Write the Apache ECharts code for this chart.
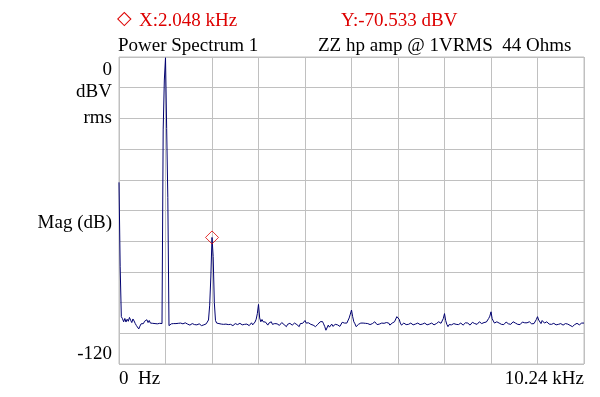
<!DOCTYPE html>
<html>
<head>
<meta charset="utf-8">
<script src="https://cdn.jsdelivr.net/npm/echarts@6/dist/echarts.min.js"></script>
<style>
    html, body { margin: 0; padding: 0; background: #fff; }
    #spectrum_chart { width: 600px; height: 397px; }
</style>
</head>
<body>
<div id="spectrum_chart"></div>
<script>
// FFT bin width (kHz), 400 lines over 0 .. 10.24 kHz
var binKHz = 0.0256;

// magnitude per bin, dBV rms
var magDb = [
    -49, -82, -101.5, -102.3, -103.5, -102.2, -103.6, -102.5, -103.3, -101.8,
    -102.9, -103.8, -102.4, -103.2, -104.2, -105.0, -105.6, -106.3, -105.2, -104.3,
    -103.6, -104.2, -103.3, -103.9, -102.7, -103.8, -103.0, -104.0, -103.4, -104.1,
    -103.5, -104.2, -103.8, -104.3, -103.7, -104.1, -104.0, -104.2, -28.5, -9.0,
    -0.3, -28, -55, -105.0, -104.7, -104.3, -104.0, -104.2, -104.4, -104.2,
    -103.9, -104.1, -103.8, -104.0, -104.3, -104.3, -104.0, -103.9, -104.1, -104.4,
    -104.6, -104.8, -104.4, -104.2, -104.3, -104.6, -105.0, -104.7, -104.4, -104.3,
    -104.6, -105.0, -105.2, -104.7, -104.4, -104.3, -103.9, -102.8, -97, -86,
    -70.533, -78, -96, -103, -104.0, -104.3, -104.2, -104.1, -104.4, -104.7,
    -104.5, -103.9, -104.4, -104.8, -104.6, -104.3, -104.5, -104.8, -105.0, -104.6,
    -104.2, -104.8, -104.6, -104.3, -104.1, -104.4, -104.7, -104.8, -104.5, -104.3,
    -104.4, -104.7, -105.0, -104.6, -103.9, -104.7, -104.2, -103.6, -102.5, -100.3,
    -96.7, -102.0, -103.5, -102.6, -103.5, -104.1, -103.6, -104.1, -104.8, -104.0,
    -103.8, -103.5, -104.5, -104.8, -104.2, -103.9, -104.3, -104.7, -104.9, -104.2,
    -103.8, -104.0, -104.6, -105.2, -105.4, -104.5, -103.9, -104.1, -104.7, -104.8,
    -104.3, -104.0, -104.2, -104.6, -105.0, -105.4, -104.2, -103.5, -104.1, -103.9,
    -103.0, -104.0, -104.4, -103.9, -104.1, -104.5, -104.9, -104.8, -105.2, -105.4,
    -104.8, -104.5, -104.1, -103.5, -102.8, -103.4, -104.3, -105.4, -106.8, -106.5,
    -104.8, -105.6, -105.2, -104.4, -105.3, -105.0, -104.5, -104.1, -104.7, -105.2,
    -105.3, -104.6, -103.7, -103.6, -104.0, -104.3, -104.0, -103.5, -102.0, -100.5,
    -98.9, -101.5, -103.5, -104.3, -105.4, -104.8, -104.5, -104.3, -104.0, -104.2,
    -104.0, -104.3, -104.1, -104.0, -104.2, -104.4, -104.6, -104.8, -104.2, -103.8,
    -103.5, -104.0, -104.6, -104.8, -104.4, -104.1, -104.0, -104.2, -104.1, -104.0,
    -103.8, -103.5, -104.0, -104.8, -104.2, -104.0, -103.8, -103.5, -102.8, -101.5,
    -100.8, -102.5, -104.0, -104.8, -104.3, -104.0, -104.2, -104.6, -104.8, -104.5,
    -104.1, -104.0, -104.4, -104.7, -104.8, -104.4, -104.1, -104.0, -104.3, -104.6,
    -104.8, -104.4, -104.1, -104.0, -104.4, -104.7, -104.8, -104.4, -104.1, -104.0,
    -104.4, -104.7, -104.8, -104.2, -103.6, -103.5, -103.9, -104.1, -103.4, -102.2,
    -100.3, -103.0, -104.5, -105.4, -104.6, -104.1, -104.7, -104.5, -104.2, -104.1,
    -104.5, -104.8, -104.6, -104.2, -104.0, -104.4, -104.8, -104.5, -103.9, -103.5,
    -104.0, -104.6, -104.8, -104.2, -103.7, -103.5, -104.2, -104.8, -104.5, -103.9,
    -103.5, -103.8, -104.2, -104.1, -103.8, -103.5, -103.6, -103.0, -102.2, -101.3,
    -99.6, -102.3, -103.2, -104.0, -103.8, -103.5, -103.8, -104.0, -104.2, -104.5,
    -104.8, -104.6, -104.0, -103.6, -103.8, -104.3, -104.8, -104.5, -103.8, -103.5,
    -103.8, -104.0, -104.1, -104.5, -104.8, -104.6, -104.0, -103.6, -103.6, -103.9,
    -104.1, -103.9, -103.6, -103.5, -103.8, -104.3, -104.8, -104.2, -103.5, -102.6,
    -101.5, -102.8, -103.5, -104.2, -103.0, -103.2, -104.0, -103.8, -103.5, -103.9,
    -104.4, -104.8, -104.5, -104.2, -104.1, -104.4, -104.7, -104.8, -104.5, -104.1,
    -104.2, -104.6, -104.8, -104.4, -104.2, -104.1, -104.4, -104.8, -104.9, -105.2,
    -105.4, -105.2, -104.6, -104.2, -104.1, -104.5, -104.7, -104.6, -104.0, -103.5,
    -104.0
];

// cursor readout
var markerKHz = [2.048];
var markerDb = [-70.533];

// axis text
var xTickLabels = ['0  Hz', '10.24 kHz'];
var yTickLabels = ['0', '-120'];
var yUnitLabels = ['dBV', 'rms', 'Mag (dB)'];

var titleTexts = ['Power Spectrum 1', 'ZZ hp amp @ 1VRMS  44 Ohms'];

var fontFamily = '"Liberation Serif", "Times New Roman", serif';
var gridColor = '#c0c0c0';

var spectrumData = [];
for (var i = 0; i < magDb.length; i++) {
    spectrumData.push([i * binKHz, magDb[i]]);
}

var chart = echarts.init(document.getElementById('spectrum_chart'), null, {renderer: 'canvas'});

var option = {
    animation: false,
    backgroundColor: '#fff',
    grid: {
        left: 119,
        right: 16,
        top: 57,
        bottom: 33,
        show: true,
        borderColor: gridColor,
        borderWidth: 1,
        containLabel: false
    },
    xAxis: {
        type: 'value',
        min: 0,
        max: 10.24,
        interval: 1.024,
        axisLine: {show: false},
        axisTick: {show: false},
        splitLine: {show: true, lineStyle: {color: gridColor, width: 1}},
        axisLabel: {
            show: true,
            margin: 6,
            color: '#000',
            fontFamily: fontFamily,
            fontSize: 19,
            showMinLabel: true,
            showMaxLabel: true,
            alignMinLabel: 'left',
            alignMaxLabel: 'right',
            formatter: function (value) {
                if (Math.abs(value) < 1e-6) return xTickLabels[0];
                if (Math.abs(value - 10.24) < 1e-6) return xTickLabels[1];
                return '';
            }
        }
    },
    yAxis: {
        type: 'value',
        min: -120,
        max: 0,
        interval: 12,
        axisLine: {show: false},
        axisTick: {show: false},
        splitLine: {show: true, lineStyle: {color: gridColor, width: 1}},
        axisLabel: {
            show: true,
            margin: 7,
            color: '#000',
            fontFamily: fontFamily,
            fontSize: 19,
            formatter: function (value) {
                if (value === 0) return '{t|' + yTickLabels[0] + '}';
                if (value === -120) return '{b|' + yTickLabels[1] + '}';
                return '';
            },
            rich: {
                t: {fontFamily: fontFamily, fontSize: 19, color: '#000', padding: [27, 0, 0, 0]},
                b: {fontFamily: fontFamily, fontSize: 19, color: '#000', padding: [0, 0, 20, 0]}
            }
        }
    },
    graphic: [
        {type: 'text', left: 117, top: 10, style: {text: '\u25C7', fill: '#dd0000', font: '19px "DejaVu Sans"'}},
        {type: 'text', left: 139, top: 12, style: {text: 'X:' + markerKHz[0].toFixed(3) + ' kHz', fill: '#dd0000', font: '19px ' + fontFamily}},
        {type: 'text', left: 341, top: 12, style: {text: 'Y:' + markerDb[0].toFixed(3) + ' dBV', fill: '#dd0000', font: '19px ' + fontFamily}},
        {type: 'text', left: 118, top: 37, style: {text: titleTexts[0], fill: '#000', font: '19px ' + fontFamily}},
        {type: 'text', left: 318, top: 37, style: {text: titleTexts[1], fill: '#000', font: '19px ' + fontFamily}},
        {type: 'text', right: 488, top: 83, style: {text: yUnitLabels[0], fill: '#000', font: '19px ' + fontFamily, textAlign: 'right'}},
        {type: 'text', right: 488, top: 109, style: {text: yUnitLabels[1], fill: '#000', font: '19px ' + fontFamily, textAlign: 'right'}},
        {type: 'text', right: 488, top: 214, style: {text: yUnitLabels[2], fill: '#000', font: '19px ' + fontFamily, textAlign: 'right'}}
    ],
    series: [
        {
            name: 'Power Spectrum 1',
            type: 'line',
            data: spectrumData,
            showSymbol: false,
            symbol: 'none',
            lineStyle: {color: '#000070', width: 1},
            silent: true
        },
        {
            name: 'cursor',
            type: 'scatter',
            data: [[markerKHz[0], markerDb[0]]],
            symbol: 'diamond',
            symbolSize: [13, 13],
            itemStyle: {color: 'rgba(0,0,0,0)', borderColor: '#dd0000', borderWidth: 1},
            silent: true,
            z: 5
        }
    ]
};

chart.setOption(option);
</script>
</body>
</html>
